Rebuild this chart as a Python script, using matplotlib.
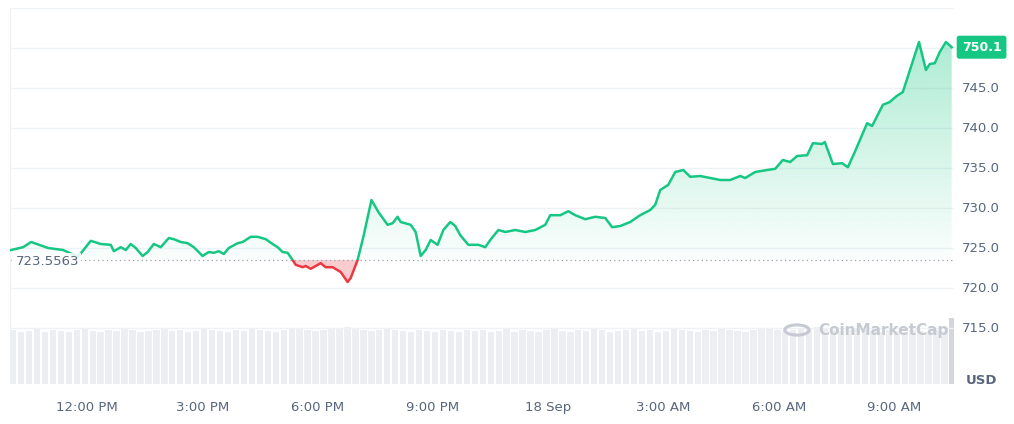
import numpy as np
import matplotlib
matplotlib.use("Agg")
import matplotlib.pyplot as plt
from matplotlib.patches import Rectangle, Circle
from matplotlib.path import Path

# hours since 17 Sep 00:00
hours = [10.03,10.34,10.55,10.99,11.38,11.77,12.10,12.36,12.62,12.70,12.88,13.01,13.14,13.27,13.45,13.58,13.74,13.92,
         14.13,14.26,14.44,14.62,14.78,15.01,15.17,15.30,15.43,15.56,15.69,15.92,16.05,16.26,16.44,16.65,16.83,16.96,
         17.09,17.22,17.35,17.43,17.61,17.69,17.82,17.95,18.08,18.21,18.39,18.60,18.78,18.86,19.04,19.19,19.40,19.58,
         19.82,19.95,20.08,20.16,20.42,20.55,20.68,20.81,20.94,21.12,21.27,21.45,21.58,21.71,21.92,22.18,22.36,22.49,
         22.70,22.88,23.14,23.40,23.66,23.92,24.05,24.31,24.52,24.70,24.96,25.22,25.48,25.66,25.87,26.13,26.39,26.65,
         26.78,26.91,27.12,27.30,27.51,27.69,27.95,28.21,28.47,28.73,28.99,29.12,29.38,29.69,29.90,30.10,30.29,30.47,
         30.73,30.88,31.12,31.19,31.40,31.64,31.79,31.97,32.29,32.42,32.70,32.88,33.06,33.22,33.64,33.82,33.92,34.05,
         34.18,34.34,34.49]
prices = [724.75,725.1,725.75,725.0,724.75,723.9,725.9,725.5,725.4,724.6,725.1,724.75,725.5,725.0,724.0,724.5,725.5,725.1,
          726.25,726.1,725.75,725.6,725.1,724.0,724.5,724.4,724.6,724.25,725.0,725.6,725.75,726.4,726.4,726.1,725.5,725.1,
          724.5,724.4,723.5,722.9,722.6,722.75,722.4,722.75,723.1,722.6,722.6,722.0,720.75,721.25,723.5,726.4,731.0,729.5,
          727.9,728.1,728.9,728.25,727.9,727.0,724.0,724.75,726.0,725.4,727.25,728.25,727.75,726.6,725.4,725.4,725.1,726.0,
          727.25,727.0,727.25,727.0,727.25,727.9,729.1,729.1,729.6,729.1,728.6,728.9,728.75,727.6,727.75,728.25,729.1,729.75,
          730.4,732.25,732.9,734.5,734.75,733.9,734.0,733.75,733.5,733.5,734.0,733.75,734.5,734.75,734.9,736.0,735.75,736.5,
          736.6,738.1,738.0,738.25,735.5,735.6,735.1,737.0,740.6,740.25,742.9,743.25,744.0,744.5,750.75,747.25,748.0,748.1,
          749.5,750.75,750.1]
volume = [62,60,61,63,60,62,61,60,62,63,61,60,62,61,63,62,60,61,62,63,61,62,60,61,63,62,61,60,62,61,
          63,62,61,60,62,63,64,62,61,62,63,64,65,63,62,61,62,63,62,61,60,62,61,60,62,61,60,62,61,
          62,60,61,63,60,62,61,60,62,63,61,60,62,61,63,62,60,61,62,63,61,62,60,61,63,62,61,60,62,61,
          63,62,61,60,62,63,64,62,61,62,63,64,65,63,62,61,62,63,62,61,60,62,61,60,62,61,60,62,61,75]
baseline = 723.5563
yticks = [715.0, 720.0, 725.0, 730.0, 735.0, 740.0, 745.0]
xtick_hours = [12, 15, 18, 21, 24, 27, 30, 33]
xtick_labels = ["12:00 PM", "3:00 PM", "6:00 PM", "9:00 PM", "18 Sep", "3:00 AM", "6:00 AM", "9:00 AM"]

GREEN = "#16c784"; RED = "#ea3943"; GREY = "#58667e"
fig = plt.figure(figsize=(10.14, 4.24), dpi=100)
ax = fig.add_axes([10/1014, 40/424, 944/1014, 376/424])
x0, x1 = 10.0, 34.55
ylo, yhi = 708, 755
ax.set_xlim(x0, x1); ax.set_ylim(ylo, yhi)

# volume bars
axv = ax.twinx()
axv.set_position(ax.get_position())
vx = np.linspace(hours[0] + 0.05, hours[-1] + 0.02, len(volume))
step = vx[1] - vx[0]
cols = ["#eceef1"] * (len(volume) - 1) + ["#d3d7dd"]
axv.bar(vx, volume, width=step * 0.8, color=cols, zorder=0)
axv.set_ylim(0, 430)
axv.axis("off")
ax.set_zorder(axv.get_zorder() + 1); ax.patch.set_visible(False)

for t in yticks + [750.0]:
    ax.axhline(t, color="#eff2f5", lw=1, zorder=0)
ax.axhline(755, color="#eff2f5", lw=1)

h = np.array(hours); p = np.array(prices)
grad = np.zeros((256, 1, 4))
grad[..., 0:3] = matplotlib.colors.to_rgb(GREEN)
grad[:, 0, 3] = np.linspace(0.02, 0.35, 256)
im = ax.imshow(grad, extent=[x0, x1, baseline, 751], origin="lower", aspect="auto", zorder=1)
poly = ax.fill_between(h, p, baseline, where=p >= baseline, interpolate=True, color="none")
paths = poly.get_paths()
if paths:
    verts = np.concatenate([pp.vertices for pp in paths]); codes = np.concatenate([pp.codes for pp in paths])
    im.set_clip_path(Path(verts, codes), ax.transData)
ax.fill_between(h, p, baseline, where=p < baseline, interpolate=True, color=RED, alpha=0.25, lw=0, zorder=1)

lg, = ax.plot(h, p, color=GREEN, lw=1.8, zorder=3)
lr, = ax.plot(h, p, color=RED, lw=1.8, zorder=3)
lg.set_clip_path(Rectangle((x0, baseline), x1 - x0, yhi - baseline, transform=ax.transData))
lr.set_clip_path(Rectangle((x0, ylo), x1 - x0, baseline - ylo, transform=ax.transData))
ax.axhline(baseline, color="#9aa1ad", lw=0.9, ls=(0, (1, 2.5)), zorder=2)

ax.text(10.15, baseline - 0.2, f"{baseline:.4f}", color=GREY, fontsize=9.5, va="center", ha="left",
        bbox=dict(fc="white", ec="none", pad=1.5, alpha=0.85), zorder=5)

for s in ax.spines.values(): s.set_visible(False)
ax.set_yticks([])
ax.set_xticks(xtick_hours); ax.set_xticklabels(xtick_labels, color=GREY, fontsize=9.5)
ax.tick_params(axis="x", length=0, pad=12)
for t in yticks:
    ax.text(x1 + 0.2, t, f"{t:.1f}", color=GREY, fontsize=9.5, va="center", ha="left", clip_on=False)
ax.text(x1 + 0.2, p[-1], f"{p[-1]:.1f}", color="white", fontsize=9, fontweight="bold", va="center", ha="left",
        clip_on=False, bbox=dict(boxstyle="round,pad=0.4,rounding_size=0.2", fc=GREEN, ec="none"))
fig.text(997/1014, 1 - 381/424, "USD", color=GREY, fontsize=9.5, fontweight="bold", ha="right", va="center")
ax.axvline(x0, color="#eff2f5", lw=1)

# watermark
fig.text(818/1014, 1 - 331/424, "CoinMarketCap", color="#c5cad3", fontsize=11, fontweight="bold", ha="left", va="center")
fig.patches.append(Circle((797/1014, 1 - 330/424), 0.012, transform=fig.transFigure, fc="none", ec="#c5cad3", lw=2.2))

fig.savefig("out.png", dpi=100)
